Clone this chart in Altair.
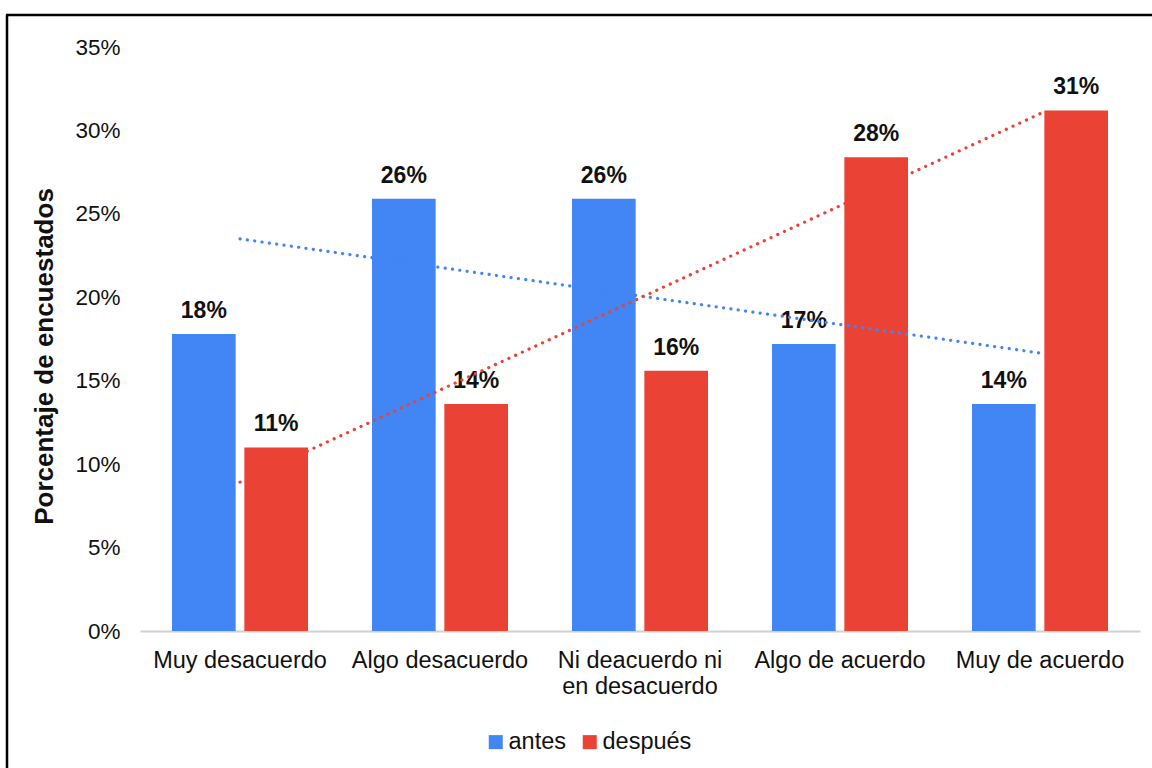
import altair as alt
import pandas as pd
import numpy as np

categories = ["Muy desacuerdo", "Algo desacuerdo", "Ni deacuerdo ni en desacuerdo",
              "Algo de acuerdo", "Muy de acuerdo"]
series = ["antes", "después"]
antes = [17.8, 25.9, 25.9, 17.2, 13.6]
despues = [11.0, 13.6, 15.6, 28.4, 31.2]
colors = ["#4285F4", "#EA4335"]
y_ticks = [0, 0.05, 0.10, 0.15, 0.20, 0.25, 0.30, 0.35]

FONT = "Liberation Sans"
TXT = "#111111"

rows = []
for s, vals in zip(series, [antes, despues]):
    for i, (c, v) in enumerate(zip(categories, vals)):
        rows.append({"category": c, "serie": s, "value": v / 100, "idx": i})
df = pd.DataFrame(rows)

# linear trendlines fitted to each series
trows = []
xs = np.arange(len(categories))
for s, vals in zip(series, [antes, despues]):
    slope, inter = np.polyfit(xs, np.array(vals) / 100, 1)
    for i, c in enumerate(categories):
        trows.append({"category": c, "serie": s, "trend": slope * i + inter, "idx": i})
tdf = pd.DataFrame(trows)

x_enc = alt.X(
    "category:N", sort=categories,
    scale=alt.Scale(paddingInner=0.32, paddingOuter=0.16),
    axis=alt.Axis(
        title=None, labelAngle=0, labelFontSize=23.5, labelFont=FONT, labelColor=TXT,
        labelPadding=17, ticks=False, domain=True, domainColor="#d0d0d0", domainWidth=2,
        labelLineHeight=26, labelLimit=0,
        labelExpr="datum.label == 'Ni deacuerdo ni en desacuerdo' ? ['Ni deacuerdo ni', 'en desacuerdo'] : datum.label",
    ),
)
y_enc = alt.Y(
    "value:Q",
    scale=alt.Scale(domain=[0, 0.35], nice=False),
    axis=alt.Axis(
        values=y_ticks, format=".0%", grid=False, ticks=False, domain=False,
        labelFontSize=22.5, labelFont=FONT, labelColor=TXT, labelPadding=20,
        title="Porcentaje de encuestados", titleFontSize=26, titleFont=FONT,
        titleFontWeight="bold", titleColor=TXT, titleX=-96, titleY=309,
        titleAlign="center", titleBaseline="middle", titleAngle=270,
    ),
)
xoff = alt.XOffset("serie:N", sort=series, scale=alt.Scale(paddingInner=0.12))
color_scale = alt.Scale(domain=series, range=colors)

bars = alt.Chart(df).mark_bar().encode(
    x=x_enc, xOffset=xoff, y=y_enc,
    color=alt.Color(
        "serie:N", scale=color_scale,
        legend=alt.Legend(
            title=None, orient="none", legendX=344, legendY=683, direction="horizontal",
            symbolType="square", symbolSize=196, symbolStrokeWidth=0,
            labelFontSize=23.5, labelFont=FONT, labelColor=TXT,
            columnPadding=12, labelOffset=1,
        ),
    ),
)

labels = alt.Chart(df).mark_text(
    dy=-16, baseline="alphabetic", fontWeight="bold", fontSize=23, font=FONT, color=TXT
).encode(
    x=alt.X("category:N", sort=categories), xOffset=xoff, y=alt.Y("value:Q"),
    text=alt.Text("value:Q", format=".0%"),
)

trend = alt.Chart(tdf).mark_line(
    strokeDash=[0.1, 7.3], strokeCap="round", strokeWidth=3.2
).encode(
    x=alt.X("category:N", sort=categories), y=alt.Y("trend:Q"),
    color=alt.Color("serie:N", scale=color_scale, legend=None),
    order=alt.Order("idx:Q"),
)

one = pd.DataFrame({"k": [0]})
border_left = alt.Chart(one).mark_rule(color="black", strokeWidth=2.5).encode(
    x=alt.value(-133), y=alt.value(-32), y2=alt.value(730)
)
border_top = alt.Chart(one).mark_rule(color="black", strokeWidth=2.5).encode(
    x=alt.value(-134), x2=alt.value(1020), y=alt.value(-32)
)

chart = alt.layer(bars, labels, trend, border_left, border_top).properties(
    width=1000, height=584,
    padding={"left": 140, "top": 47, "right": 12, "bottom": 137},
    autosize="none",
    background="white",
).configure_view(stroke=None)

chart.save("out.html", embed_options={"renderer": "svg", "actions": False})
